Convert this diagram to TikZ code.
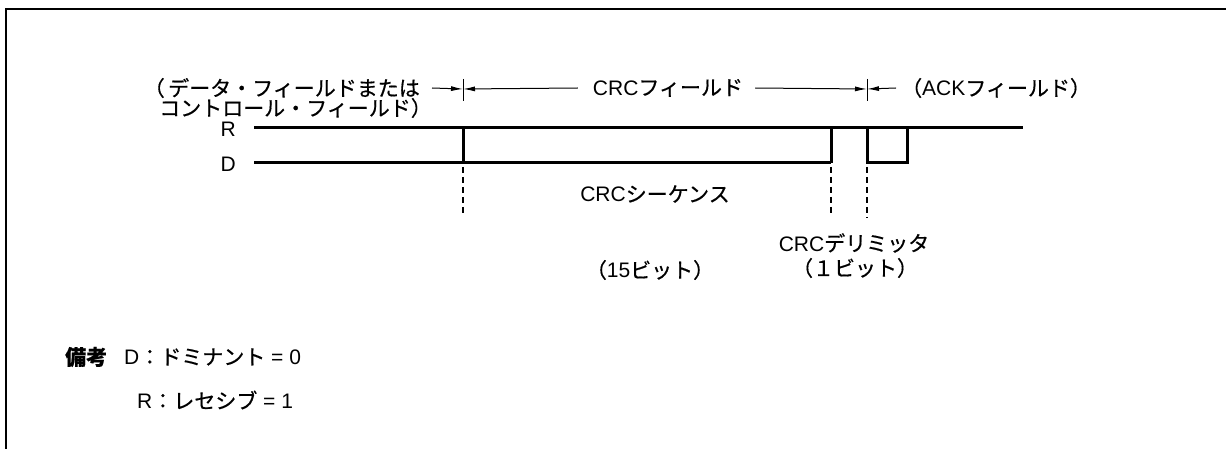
\documentclass[tikz,border=0pt]{standalone}
\usepackage{fontspec}
\setmainfont{Liberation Sans}
\newfontfamily\jp[FakeBold=0.6]{Noto Sans CJK JP}
\usetikzlibrary{arrows.meta, positioning}

\begin{document}
\begin{tikzpicture}[
    x=1pt, y=-1pt,
    every node/.style={font=\fontsize{21}{25}\selectfont, inner sep=0pt},
    sig/.style={line width=3pt},
    frm/.style={line width=2.8pt},
    guide/.style={line width=1.3pt, dash pattern=on 6pt off 4pt},
    tick/.style={line width=1pt},
    dimarr/.style={-{Latex[length=12pt, width=5pt]}, line width=1pt},
  ]
  \useasboundingbox (0,0) rectangle (1226,449);

  % frame (open at right and bottom)
  \draw[frm] (6,449) -- (6,9) -- (1226,9);

  % level labels
  \node[anchor=east] (lblR) at (236,129) {R};
  \node[anchor=east] (lblD) at (236,164) {D};

  % edges of the waveform
  \coordinate (r0) at (254,128);  \coordinate (d0) at (254,163);
  \coordinate (r1) at (463,128);  \coordinate (d1) at (463,163);
  \coordinate (r2) at (831,128);  \coordinate (d2) at (831,163);
  \coordinate (r3) at (867,128);  \coordinate (d3) at (867,163);
  \coordinate (r4) at (907,128);  \coordinate (d4) at (907,163);
  \coordinate (rE) at (1023,128);

  % waveform
  \draw[sig] (r0) -- (rE);
  \draw[sig] (d0) -- (d2);
  \draw[sig] (r1) -- (d1);
  \draw[sig] (r2) -- (d2);
  \draw[sig] (r3) -- (d3) -- (d4) -- (r4);

  % guide lines
  \draw[guide] (463,167) -- (463,216);
  \draw[guide] (831,167) -- (831,216);
  \draw[guide] (867,167) -- (867,218);

  % field boundaries
  \coordinate (tk1) at (463,89);
  \coordinate (tk2) at (867,89);
  \draw[tick] (463,79) -- (463,101);
  \draw[tick] (867,79) -- (867,101);

  % field labels
  \node[anchor=east] (fldA) at (420,88) {{\jp （\,データ・フィールドまたは}};
  \node[anchor=east] (fldB) at (432,108) {{\jp コントロール・フィールド）}};
  \node (crcf) at (668,88) {CRC{\jp フィールド}};
  \node[anchor=west] (ackf) at (901,88) {{\jp （}ACK{\jp フィールド）}};

  \draw[dimarr] ([xshift=12pt]fldA.east) -- (tk1);
  \draw[dimarr] ([xshift=-15pt]crcf.west) -- (tk1);
  \draw[dimarr] ([xshift=12pt]crcf.east) -- (tk2);
  \draw[dimarr] ([xshift=-5pt]ackf.west) -- (tk2);

  % bit counts
  \node (seq)    at (655,194) {CRC{\jp シーケンス}};
  \node (bits15) at (650,270) {{\jp （}15{\jp ビット）}};
  \node (delim)  at (854,243) {CRC{\jp デリミッタ}};
  \node (bits1)  at (855,268) {{\jp （１ビット）}};

  % notes
  \node[anchor=west] (notekey) at (65,357) {{\jp\bfseries 備考}};
  \node[anchor=west] (noteD) at (124,357) {D{\jp ：ドミナント} = 0};
  \node[anchor=west] (noteR) at (137,400) {R{\jp ：レセシブ} = 1};
\end{tikzpicture}
\end{document}
